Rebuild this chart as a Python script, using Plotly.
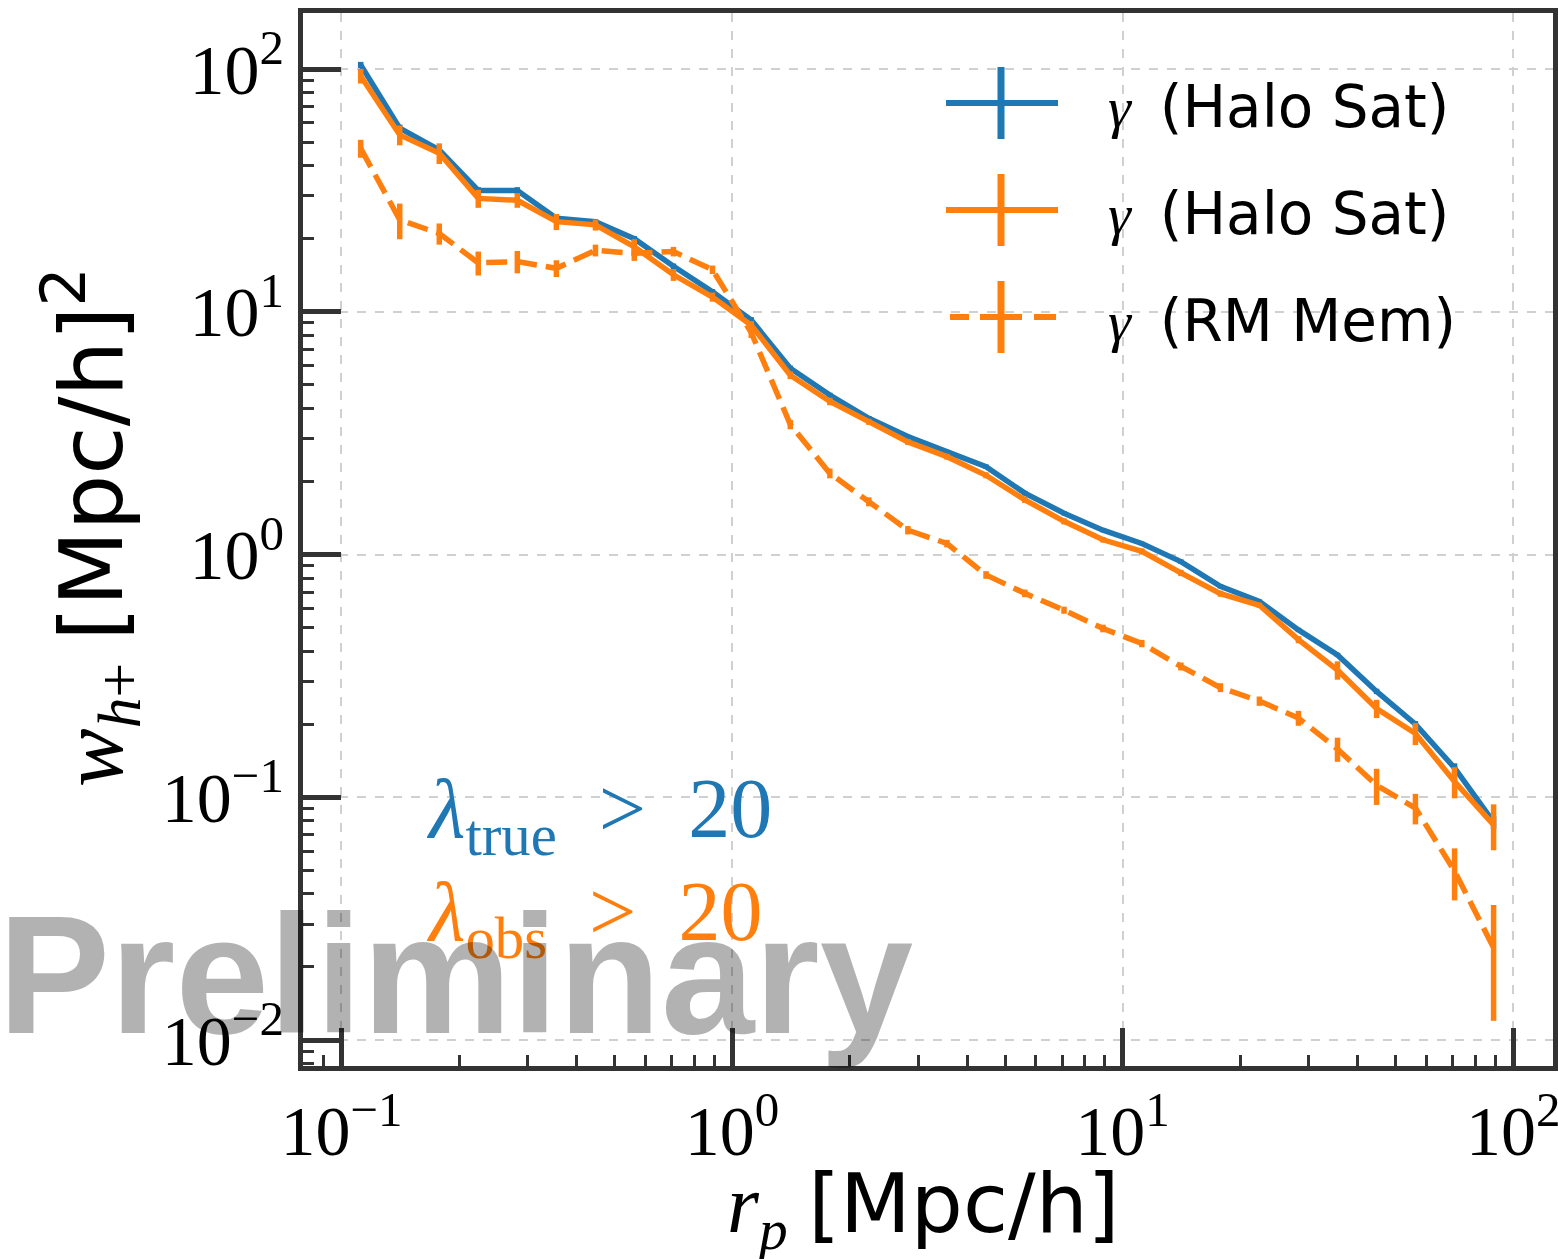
import plotly.graph_objects as go

# ---- data ----
r_p = [0.112, 0.141, 0.178, 0.224, 0.282, 0.355, 0.447, 0.562, 0.708, 0.891,
       1.12, 1.41, 1.78, 2.24, 2.82, 3.55, 4.47, 5.62, 7.08, 8.91,
       11.2, 14.1, 17.8, 22.4, 28.2, 35.5, 44.7, 56.2, 70.8, 89.1]

w_true_halo = [104, 57, 46.4, 31.6, 31.6, 24.3, 23.5, 20.0, 15.4, 12.1,
               9.25, 5.85, 4.54, 3.64, 3.06, 2.65, 2.30, 1.79, 1.48, 1.26,
               1.11, 0.935, 0.74, 0.641, 0.489, 0.386, 0.273, 0.200, 0.132, 0.079]
e_true_halo = [3, 2, 1.5, 1, 1, 0.7, 0.6, 0.5, 0.4, 0.3,
               0.25, 0.15, 0.1, 0.08, 0.06, 0.05, 0.05, 0.04, 0.03, 0.025,
               0.02, 0.02, 0.015, 0.012, 0.01, 0.008, 0.007, 0.006, 0.006, 0.005]

w_obs_halo = [93.6, 53.5, 45.0, 29.3, 28.8, 23.5, 22.8, 18.5, 14.2, 11.5,
              8.8, 5.48, 4.27, 3.52, 2.91, 2.53, 2.12, 1.68, 1.37, 1.15,
              1.03, 0.84, 0.69, 0.618, 0.446, 0.334, 0.232, 0.183, 0.116, 0.077]
e_obs_halo = [6.5, 5, 4.4, 2.5, 2, 1.8, 1.2, 1.4, 0.8, 0.5,
              0.35, 0.2, 0.15, 0.1, 0.08, 0.07, 0.06, 0.05, 0.04, 0.03,
              0.03, 0.025, 0.02, 0.015, 0.015, 0.029, 0.02, 0.019, 0.017, 0.0165]

w_obs_rm = [47.1, 23.9, 21.0, 15.9, 16.1, 15.1, 17.9, 17.4, 17.7, 14.9,
            8.2, 3.43, 2.16, 1.65, 1.26, 1.11, 0.824, 0.692, 0.590, 0.496,
            0.43, 0.346, 0.283, 0.249, 0.212, 0.158, 0.112, 0.0903, 0.0496, 0.024]
e_obs_rm = [4, 4, 2.1, 1.8, 1.7, 1.2, 1.0, 1.2, 0.8, 0.6,
            0.4, 0.15, 0.1, 0.07, 0.05, 0.04, 0.03, 0.025, 0.02, 0.018,
            0.015, 0.013, 0.012, 0.011, 0.015, 0.018, 0.019, 0.013, 0.012, 0.012]

x_tickvals = [0.1, 1, 10, 100]
x_ticktext = ["10<sup>\u22121</sup>", "10<sup>0</sup>", "10<sup>1</sup>", "10<sup>2</sup>"]
y_tickvals = [0.01, 0.1, 1, 10, 100]
y_ticktext = ["10<sup>\u22122</sup>", "10<sup>\u22121</sup>", "10<sup>0</sup>",
              "10<sup>1</sup>", "10<sup>2</sup>"]

legend_labels = ["(Halo Sat)", "(Halo Sat)", "(RM Mem)"]

BLUE = "#1f77b4"
ORANGE = "#ff7f0e"
FRAME = "#333333"
SERIF = "Liberation Serif"
SANS = "DejaVu Sans"

W, H = 1558, 1259
ML, MR, MT, MB = 303, 5, 13, 193
PW, PH = W - ML - MR, H - MT - MB


def px(x):
    return (x - ML) / PW


def py(y):
    return 1 - (y - MT) / PH


fig = go.Figure()

series = [
    (w_true_halo, e_true_halo, BLUE, "solid"),
    (w_obs_halo, e_obs_halo, ORANGE, "solid"),
    (w_obs_rm, e_obs_rm, ORANGE, "21px,9px"),
]
for vals, errs, col, dash in series:
    fig.add_trace(go.Scatter(
        x=r_p, y=vals, mode="lines",
        line=dict(color=col, width=5.5, dash=dash),
        error_y=dict(type="data", array=errs, color=col, thickness=5.5, width=0),
        showlegend=False,
    ))

minor_vals = [m * 10 ** e for e in range(-3, 3) for m in range(2, 10)]

common_axis = dict(
    type="log", showline=True, linewidth=5, linecolor=FRAME, mirror=True,
    ticks="inside", ticklen=38, tickwidth=5, tickcolor=FRAME,
    showgrid=True, gridcolor="#d0d0d0", griddash="dash", gridwidth=1.6,
    zeroline=False, tickmode="array", automargin=False, ticklabeloverflow="allow",
    tickfont=dict(family=SERIF, size=70, color="black"),
    minor=dict(ticks="inside", ticklen=11, tickwidth=2.5, tickcolor=FRAME,
               tickmode="array", tickvals=minor_vals, showgrid=False),
)

fig.update_layout(
    width=W, height=H, autosize=False,
    margin=dict(l=ML, r=MR, t=MT, b=MB),
    paper_bgcolor="white", plot_bgcolor="white",
    xaxis=dict(common_axis, range=[-1.0985, 2.102], tickvals=x_tickvals, ticktext=x_ticktext),
    yaxis=dict(common_axis, range=[-2.107, 2.2307], tickvals=y_tickvals, ticktext=y_ticktext),
)

# ---- manual legend (errorbar-style symbols) ----
rows = [103, 210, 317]
colors = [BLUE, ORANGE, ORANGE]
shapes = []
for i, (ry, col) in enumerate(zip(rows, colors)):
    if i < 2:
        shapes.append(dict(type="line", xref="paper", yref="paper",
                           x0=px(946), x1=px(1058), y0=py(ry), y1=py(ry),
                           line=dict(color=col, width=6)))
    else:
        for a, b in [(950, 969), (980, 1022), (1034, 1056)]:
            shapes.append(dict(type="line", xref="paper", yref="paper",
                               x0=px(a), x1=px(b), y0=py(ry), y1=py(ry),
                               line=dict(color=col, width=6)))
    shapes.append(dict(type="line", xref="paper", yref="paper",
                       x0=px(1001), x1=px(1001), y0=py(ry - 36), y1=py(ry + 36),
                       line=dict(color=col, width=7)))
fig.update_layout(shapes=shapes)

annotations = []
for ry, lab in zip(rows, legend_labels):
    annotations.append(dict(
        xref="paper", yref="paper", x=px(1106), y=py(ry + 4), xanchor="left", yanchor="middle",
        text="<i>\u03b3</i>&nbsp; <span style='font-family:%s'>%s</span>" % (SANS, lab),
        showarrow=False, font=dict(family=SERIF, size=58, color="black")))

# axis titles as annotations
annotations.append(dict(
    xref="paper", yref="paper", x=px(923), y=py(1208), xanchor="center", yanchor="middle",
    text="<i>r</i><sub><i>p</i></sub> <span style='font-family:%s'>[Mpc/h]</span>" % SANS,
    showarrow=False, font=dict(family=SERIF, size=82, color="black")))
annotations.append(dict(
    xref="paper", yref="paper", x=px(90), y=py(527), xanchor="center", yanchor="middle",
    textangle=-90,
    text="<i>w</i><sub><i>h</i>+</sub> <span style='font-family:%s'>[Mpc/h]<sup>2</sup></span>" % SANS,
    showarrow=False, font=dict(family=SERIF, size=88, color="black")))

gt = "&nbsp;&gt;&nbsp;"
annotations.append(dict(
    xref="paper", yref="paper", x=px(424), y=py(815), xanchor="left", yanchor="middle",
    text="<i>\u03bb</i><sub>true</sub> %s 20" % gt, showarrow=False,
    font=dict(family=SERIF, size=84, color=BLUE)))
annotations.append(dict(
    xref="paper", yref="paper", x=px(424), y=py(918), xanchor="left", yanchor="middle",
    text="<i>\u03bb</i><sub>obs</sub> %s 20" % gt, showarrow=False,
    font=dict(family=SERIF, size=84, color=ORANGE)))

annotations.append(dict(
    xref="paper", yref="paper", x=px(-4), y=py(975), xanchor="left", yanchor="middle",
    text="<b>Preliminary</b>", showarrow=False,
    font=dict(family="Liberation Sans", size=168, color="rgba(0,0,0,0.3)")))

fig.update_layout(annotations=annotations)

fig.write_html("out.html")
